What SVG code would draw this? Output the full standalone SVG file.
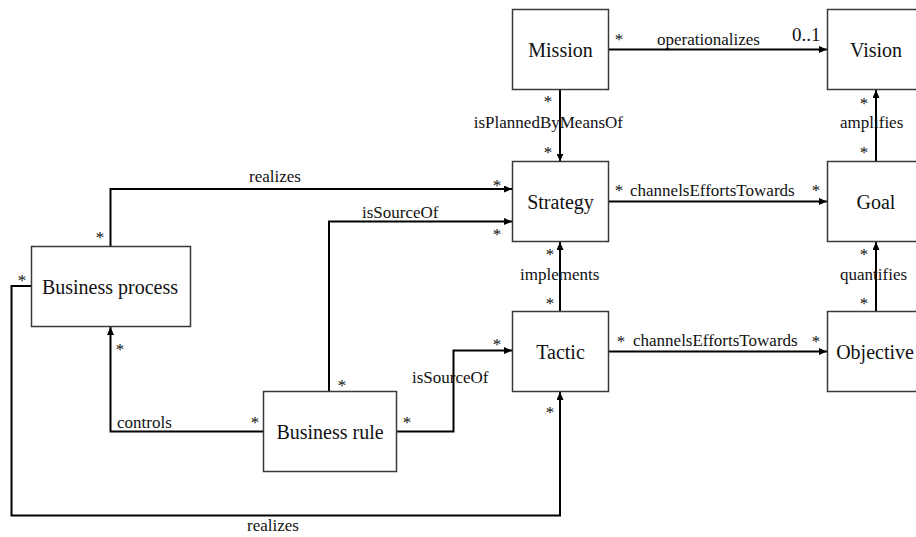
<svg xmlns="http://www.w3.org/2000/svg" width="916" height="537" viewBox="0 0 916 537">
<style>
.box{fill:#fff;stroke:#3a3a3a;stroke-width:1.5}
.nl{font-family:"Liberation Serif","Times New Roman",serif;font-size:20px;fill:#111;text-anchor:middle}
.el{font-family:"Liberation Serif","Times New Roman",serif;font-size:17px;fill:#111}
.m{text-anchor:middle}
.c{fill:none;stroke:#000;stroke-width:2;marker-end:url(#arr)}
</style>
<defs>
<marker id="arr" markerUnits="userSpaceOnUse" markerWidth="9" markerHeight="8" refX="8" refY="3.5" orient="auto">
<path d="M0,0 L8,3.5 L0,7 z" fill="#000"/>
</marker>
</defs>
<rect width="916" height="537" fill="#fff"/>
<g id="connectors">
<path class="c" d="M609 49.5 H827"/>
<path class="c" d="M560 90 V161.5"/>
<path class="c" d="M876 161.5 V90"/>
<path class="c" d="M609 201.5 H827"/>
<path class="c" d="M560 311.5 V242"/>
<path class="c" d="M876 311.5 V242"/>
<path class="c" d="M609 351.5 H827"/>
<path class="c" d="M110.5 246.5 V189 H512"/>
<path class="c" d="M329 391.5 V221.5 H512"/>
<path class="c" d="M396.5 431.5 H453.5 V350.5 H512"/>
<path class="c" d="M263.5 431.5 H110.5 V327"/>
<path class="c" d="M31.5 286 H11.5 V515.5 H560 V392"/>
</g>
<g id="labels">
<text class="el m" x="619" y="45">*</text>
<text class="el" x="657" y="45">operationalizes</text>
<text class="el" x="792" y="41" style="font-size:19px">0..1</text>
<text class="el m" x="548" y="107">*</text>
<text class="el" x="623" y="128" text-anchor="end">isPlannedByMeansOf</text>
<text class="el m" x="548" y="158">*</text>
<text class="el m" x="864" y="109">*</text>
<text class="el" x="840" y="128">amplifies</text>
<text class="el m" x="864" y="158">*</text>
<text class="el m" x="619" y="196">*</text>
<text class="el" x="630" y="196">channelsEffortsTowards</text>
<text class="el m" x="816" y="196">*</text>
<text class="el m" x="550" y="260">*</text>
<text class="el" x="520" y="280">implements</text>
<text class="el m" x="550" y="309">*</text>
<text class="el m" x="864" y="260">*</text>
<text class="el" x="840" y="280">quantifies</text>
<text class="el m" x="864" y="309">*</text>
<text class="el m" x="621" y="347">*</text>
<text class="el" x="633" y="346">channelsEffortsTowards</text>
<text class="el m" x="816" y="347">*</text>
<text class="el" x="249" y="182">realizes</text>
<text class="el m" x="497" y="191">*</text>
<text class="el m" x="100" y="243">*</text>
<text class="el" x="362" y="218">isSourceOf</text>
<text class="el m" x="497" y="240">*</text>
<text class="el m" x="342" y="391">*</text>
<text class="el m" x="407" y="428">*</text>
<text class="el" x="412" y="383">isSourceOf</text>
<text class="el m" x="497" y="350">*</text>
<text class="el" x="117" y="428">controls</text>
<text class="el m" x="255" y="428">*</text>
<text class="el m" x="120" y="355">*</text>
<text class="el m" x="22" y="286">*</text>
<text class="el m" x="550" y="418">*</text>
<text class="el" x="247" y="531">realizes</text>
</g>
<g id="mission"><rect class="box" x="512.5" y="9.5" width="96" height="80"/><text class="nl" x="560.5" y="56.5">Mission</text></g>
<g id="vision"><rect class="box" x="827.5" y="9.5" width="100" height="80"/><text class="nl" x="876" y="56.5">Vision</text></g>
<g id="strategy"><rect class="box" x="512.5" y="161.5" width="96" height="80"/><text class="nl" x="560.5" y="208.5">Strategy</text></g>
<g id="goal"><rect class="box" x="827.5" y="161.5" width="100" height="80"/><text class="nl" x="876" y="208.5">Goal</text></g>
<g id="tactic"><rect class="box" x="512.5" y="311.5" width="96" height="80"/><text class="nl" x="560.5" y="358.5">Tactic</text></g>
<g id="objective"><rect class="box" x="827.5" y="311.5" width="100" height="80"/><text class="nl" x="875" y="358.5">Objective</text></g>
<g id="business-process"><rect class="box" x="31.5" y="246.5" width="159" height="80"/><text class="nl" x="110" y="293.5">Business process</text></g>
<g id="business-rule"><rect class="box" x="263.5" y="391.5" width="133" height="80"/><text class="nl" x="330" y="438.5">Business rule</text></g>
</svg>
